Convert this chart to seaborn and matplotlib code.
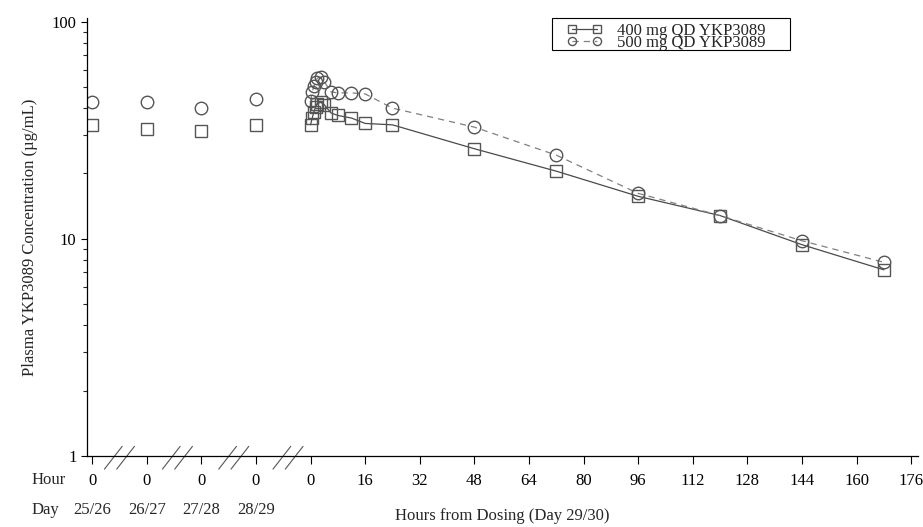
import pandas as pd
import matplotlib.pyplot as plt
import seaborn as sns
from matplotlib.patches import Rectangle
from matplotlib.ticker import FixedLocator, NullFormatter, FixedFormatter

# time points after dosing (hours) on day 29/30
hours = [0, 0.5, 1, 1.5, 2, 3, 4, 6, 8, 12, 16, 24, 48, 72, 96, 120, 144, 168]
conc_400 = [33.5, 36.0, 38.5, 40.5, 42.0, 42.5, 41.5, 38.0, 37.0, 36.0, 34.0, 33.5,
            26.0, 20.5, 15.7, 12.8, 9.4, 7.2]
conc_500 = [43.0, 47.5, 50.5, 52.5, 55.0, 55.5, 53.0, 47.5, 47.0, 47.0, 46.5, 40.0,
            32.7, 24.3, 16.2, 12.8, 9.8, 7.8]

# pre-dose troughs on earlier days, drawn on compressed positions left of 0
predose_x = [-64, -48, -32, -16]
predose_days = ['25/26', '26/27', '27/28', '28/29']
predose_400 = [33.4, 32.0, 31.4, 33.4]
predose_500 = [42.7, 42.7, 40.1, 44.1]

hour_ticks = [-64, -48, -32, -16, 0, 16, 32, 48, 64, 80, 96, 112, 128, 144, 160, 176]
hour_labels = ['0', '0', '0', '0', '0', '16', '32', '48', '64', '80', '96', '112',
               '128', '144', '160', '176']
break_x = [-56, -39, -22.5, -6.6]

sns.set_style('ticks')
plt.rcParams['font.family'] = ['Liberation Serif', 'DejaVu Serif']

df = pd.DataFrame({'hour': hours, 'c400': conc_400, 'c500': conc_500})
pre = pd.DataFrame({'x': predose_x, 'c400': predose_400, 'c500': predose_500})

fig = plt.figure(figsize=(9.23, 5.27), dpi=100)
ax = fig.add_axes([87 / 923, 1 - 456 / 527, 831 / 923, 438 / 527])

c1 = '#4a4a4a'
c2 = '#808080'
mk = dict(ms=9, mfc='none', mec='#555555', mew=1.0)
sns.lineplot(data=df, x='hour', y='c400', ax=ax, color=c1, lw=0.9, marker='s',
             label='400 mg QD YKP3089', **mk)
sns.lineplot(data=df, x='hour', y='c500', ax=ax, color=c2, lw=0.9, ls=(0, (5, 4)),
             marker='o', label='500 mg QD YKP3089', **mk)
sns.lineplot(data=pre, x='x', y='c400', ax=ax, ls='none', marker='s', legend=False, **mk)
sns.lineplot(data=pre, x='x', y='c500', ax=ax, ls='none', marker='o', legend=False, **mk)

ax.set_yscale('log')
ax.set_ylim(1, 104)
ax.set_xlim(-65.5, 178)
ax.yaxis.set_major_locator(FixedLocator([1, 10, 100]))
ax.yaxis.set_major_formatter(FixedFormatter(['1', '10', '100']))
ax.yaxis.set_minor_locator(FixedLocator([2, 3, 4, 5, 6, 7, 8, 9, 20, 30, 40, 50, 60, 70, 80, 90]))
ax.yaxis.set_minor_formatter(NullFormatter())
ax.xaxis.set_major_locator(FixedLocator(hour_ticks))
ax.xaxis.set_major_formatter(FixedFormatter(hour_labels))
ax.tick_params(axis='x', length=6, width=0.8, labelsize=12, pad=6, colors='black')
ax.tick_params(axis='y', which='major', length=4, width=0.8, labelsize=12, colors='black')
ax.tick_params(axis='y', which='minor', length=3, width=0.8)
for s in ['top', 'right']:
    ax.spines[s].set_visible(False)
for s in ['left', 'bottom']:
    ax.spines[s].set_linewidth(0.9)
    ax.spines[s].set_color('black')

ax.set_ylabel('Plasma YKP3089 Concentration (µg/mL)', fontsize=12, labelpad=10)
ax.set_xlabel('Hours from Dosing (Day 29/30)', fontsize=12, va='center')
ax.xaxis.set_label_coords(0.5, -0.137)

# axis break marks
tr = ax.get_xaxis_transform()
for b in break_x:
    for off in (-1.8, 1.8):
        ax.plot([b + off - 2.6, b + off + 2.6], [-0.030, 0.022], transform=tr,
                color='#555555', lw=0.8, clip_on=False)

# row labels under the x axis
ax.text(-0.067, -0.055, 'Hour', transform=ax.transAxes, fontsize=12, ha='left', va='center')
ax.text(-0.067, -0.124, 'Day', transform=ax.transAxes, fontsize=12, ha='left', va='center')
for x, d in zip(predose_x, predose_days):
    ax.text(x, -0.124, d, transform=tr, fontsize=12, ha='center', va='center')

leg = ax.legend(loc='upper left', bbox_to_anchor=(562 / 923, 1 - 18 / 527),
                bbox_transform=fig.transFigure, numpoints=2, fontsize=12,
                handlelength=2.1, handletextpad=0.9, labelspacing=-0.25,
                borderpad=0.3, borderaxespad=0, frameon=False, markerscale=0.65)
fig.patches.append(Rectangle((552 / 923, 1 - 50 / 527), 238 / 923, 32 / 527,
                             transform=fig.transFigure, fill=False,
                             edgecolor='black', lw=0.8))

fig.savefig('out.png', dpi=100)
